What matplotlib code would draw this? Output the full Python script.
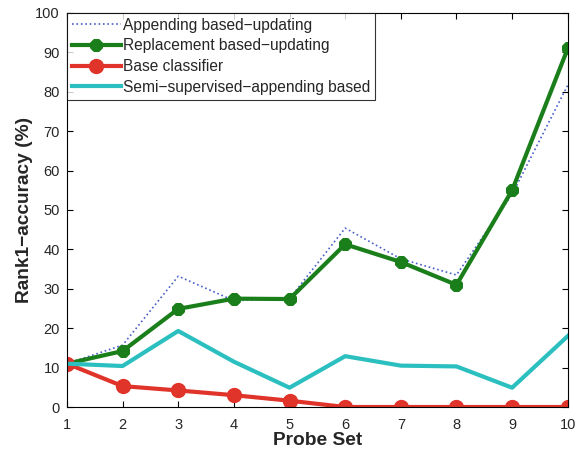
import matplotlib
matplotlib.use("Agg")
import matplotlib.pyplot as plt

plt.rcParams['font.family'] = ['Liberation Sans', 'DejaVu Sans']

probe_sets = [1, 2, 3, 4, 5, 6, 7, 8, 9, 10]
appending = [11, 15.7, 33.2, 27.0, 27.5, 45.4, 37.6, 33.5, 54.0, 81.7]
replacement = [11, 14.2, 24.9, 27.5, 27.4, 41.3, 36.8, 31.0, 55.0, 91.0]
base = [11, 5.3, 4.2, 3.0, 1.6, 0, 0, 0, 0, 0]
semi = [11, 10.4, 19.3, 11.5, 4.9, 12.9, 10.5, 10.3, 4.9, 18.0]

labels = ["Appending based\u2212updating", "Replacement based\u2212updating",
          "Base classifier", "Semi\u2212supervised\u2212appending based"]

text_color = '#262626'

fig = plt.figure(figsize=(5.77, 4.57), dpi=100)
ax = fig.add_axes([0.116, 0.1094, 0.868, 0.8622])

ax.plot(probe_sets, appending, linestyle=':', color='#4a5fc8', lw=1.2, label=labels[0])
ax.plot(probe_sets, replacement, color='#1a7f1a', lw=3, marker=(8, 2, 0),
        ms=9, mew=3.5, mec='#1a7f1a', label=labels[1])
ax.plot(probe_sets, base, color='#e0342a', lw=3, marker='o', ms=9.5,
        mfc='#e0342a', mew=1.5, mec='#e0342a', label=labels[2])
ax.plot(probe_sets, semi, color='#2bbfbf', lw=3, label=labels[3])

ax.set_xlim(1, 10)
ax.set_ylim(0, 100)
ax.set_xticks(probe_sets)
ax.set_yticks(range(0, 101, 10))
ax.tick_params(direction='in', top=True, right=True, labelsize=10.5, length=4,
               labelcolor=text_color)
ax.tick_params(axis='x', pad=8)
ax.tick_params(axis='y', pad=5)
for s in ax.spines.values():
    s.set_linewidth(0.8)

ax.set_xlabel("Probe Set", fontsize=13.8, fontweight='bold', labelpad=0,
              color=text_color)
ax.set_ylabel("Rank1\u2212accuracy (%)", fontsize=13.8, fontweight='bold', labelpad=2,
              color=text_color)

leg = ax.legend(loc='upper left', fontsize=11.2, frameon=True, fancybox=False,
                borderaxespad=0, handlelength=3.2, handletextpad=0.1,
                labelspacing=0.37, borderpad=0.3)
leg.get_frame().set_edgecolor('black')
leg.get_frame().set_linewidth(0.8)
for t in leg.get_texts():
    t.set_color(text_color)

fig.savefig("out.png", dpi=100)
